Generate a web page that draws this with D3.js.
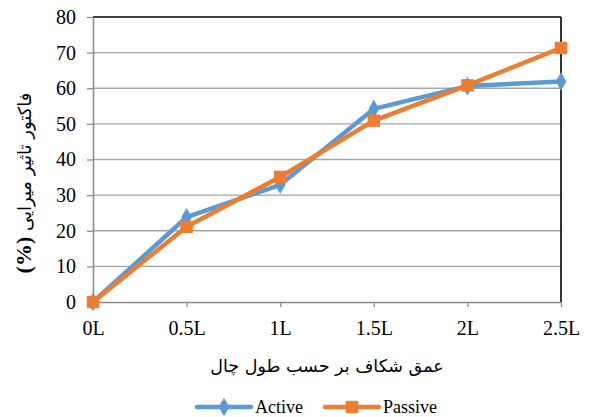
<!DOCTYPE html>
<html>
<head>
<meta charset="utf-8">
<script src="https://cdn.jsdelivr.net/npm/d3@7"></script>
<style>
  html, body { margin: 0; padding: 0; background: #fff; }
  svg { display: block; }
</style>
</head>
<body>
<svg id="chart" width="589" height="417"></svg>
<script>
// Crack depth categories (multiples of hole length L)
const categories = ["0L", "0.5L", "1L", "1.5L", "2L", "2.5L"];
// Damping influence factor (%) for each series
const activeValues = [0, 23.8, 32.9, 54.2, 60.6, 61.9];
const passiveValues = [0, 21.1, 35.1, 50.9, 60.8, 71.3];
const yTicks = [0, 10, 20, 30, 40, 50, 60, 70, 80];

const series = [
  { name: "Active", values: activeValues, color: "#5B9BD5", marker: "diamond" },
  { name: "Passive", values: passiveValues, color: "#ED7D31", marker: "square" }
];

const svg = d3.select("#chart");
const plotLeft = 93, plotRight = 561, plotTop = 17, plotBottom = 302;

const x = d3.scalePoint().domain(categories).range([plotLeft, plotRight]);
const y = d3.scaleLinear().domain([0, 80]).range([plotBottom, plotTop]);

const serif = "'Liberation Serif', 'Times New Roman', serif";
const persian = "'DejaVu Sans', sans-serif";

// Horizontal gridlines
svg.append("g")
  .selectAll("line")
  .data(yTicks.filter(d => d > 0 && d < 80))
  .join("line")
  .attr("x1", plotLeft).attr("x2", plotRight)
  .attr("y1", d => y(d)).attr("y2", d => y(d))
  .attr("stroke", "#a6a6a6").attr("stroke-width", 1.3);

// Top and right frame lines
svg.append("line").attr("x1", plotLeft).attr("x2", plotRight).attr("y1", y(80)).attr("y2", y(80))
  .attr("stroke", "#000").attr("stroke-width", 1.6);
svg.append("line").attr("x1", plotRight).attr("x2", plotRight).attr("y1", y(80)).attr("y2", plotBottom)
  .attr("stroke", "#000").attr("stroke-width", 1.6);

// Y axis
const yAxis = svg.append("g")
  .attr("transform", `translate(${plotLeft},0)`)
  .call(d3.axisLeft(y).tickValues(yTicks).tickSize(6).tickPadding(11).tickSizeOuter(0));
yAxis.select(".domain").attr("stroke", "#8c8c8c").attr("stroke-width", 1.6);
yAxis.selectAll(".tick line").attr("stroke", "#8c8c8c").attr("stroke-width", 1.3);
yAxis.selectAll(".tick text").attr("font-family", serif).attr("font-size", 20).attr("fill", "#000");

// X axis
const xAxis = svg.append("g")
  .attr("transform", `translate(0,${plotBottom})`)
  .call(d3.axisBottom(x).tickSize(5).tickPadding(14).tickSizeOuter(0));
xAxis.select(".domain").attr("stroke", "#8c8c8c").attr("stroke-width", 1.6);
xAxis.selectAll(".tick line").attr("stroke", "#8c8c8c").attr("stroke-width", 1.3);
xAxis.selectAll(".tick text").attr("font-family", serif).attr("font-size", 20).attr("fill", "#000");

// Marker shapes
const diamondPath = d3.symbol().type(d3.symbolDiamond).size(100)();
const squarePath = d3.symbol().type(d3.symbolSquare).size(155)();

const line = d3.line().x((d, i) => x(categories[i])).y(d => y(d));

series.forEach(s => {
  const g = svg.append("g");
  g.append("path")
    .datum(s.values)
    .attr("d", line)
    .attr("fill", "none")
    .attr("stroke", s.color)
    .attr("stroke-width", 4.5)
    .attr("stroke-linejoin", "round");
  g.selectAll("path.marker")
    .data(s.values)
    .join("path")
    .attr("class", "marker")
    .attr("transform", (d, i) => `translate(${x(categories[i])},${y(d)})`)
    .attr("d", s.marker === "diamond" ? diamondPath : squarePath)
    .attr("fill", s.color);
});

// Axis titles
const yTitle = svg.append("text")
  .attr("transform", "translate(31,183) rotate(-90)")
  .attr("text-anchor", "middle")
  .attr("font-family", persian)
  .attr("font-size", 18)
  .attr("direction", "rtl");
yTitle.append("tspan").text("فاکتور تاثیر میرایی ");
yTitle.append("tspan").attr("font-family", serif).attr("font-weight", "bold").attr("font-size", 22).text("(%)");

svg.append("text")
  .attr("x", 327).attr("y", 372)
  .attr("text-anchor", "middle")
  .attr("font-family", persian)
  .attr("font-size", 17.5)
  .attr("direction", "rtl")
  .text("عمق شکاف بر حسب طول چال");

// Legend
const legendItems = [
  { s: series[0], x0: 197 },
  { s: series[1], x0: 325 }
];
legendItems.forEach(({ s, x0 }) => {
  const ly = 407;
  const g = svg.append("g");
  g.append("line").attr("x1", x0).attr("x2", x0 + 54).attr("y1", ly).attr("y2", ly)
    .attr("stroke", s.color).attr("stroke-width", 4.5).attr("stroke-linecap", "round");
  g.append("path")
    .attr("transform", `translate(${x0 + 27},${ly})`)
    .attr("d", s.marker === "diamond" ? diamondPath : squarePath)
    .attr("fill", s.color);
  g.append("text").attr("x", x0 + 58).attr("y", ly + 6)
    .attr("font-family", serif).attr("font-size", 18).attr("fill", "#000")
    .text(s.name);
});
</script>
</body>
</html>
